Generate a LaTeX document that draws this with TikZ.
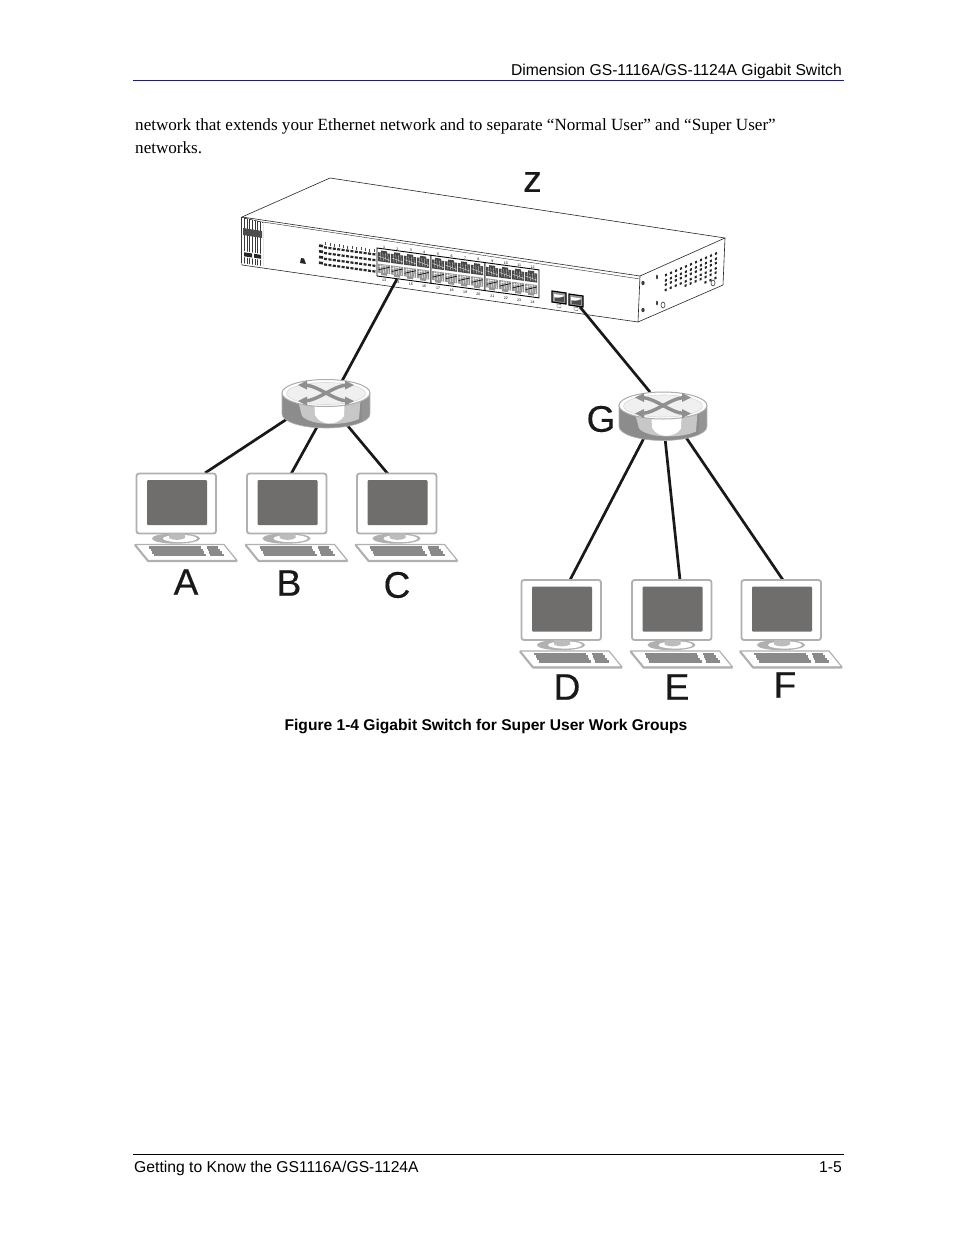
\documentclass[tikz,border=0pt]{standalone}
\usepackage{fontspec}
\setmainfont{Liberation Serif}
\newfontfamily\arialf{Liberation Sans}
\newfontfamily\labf[FakeBold=0.35]{Liberation Sans}
\usetikzlibrary{calc}
\definecolor{scr}{HTML}{6F6E6C}
\definecolor{rimgray}{HTML}{B0B0B0}
\definecolor{keygray}{HTML}{8A8A8A}
\definecolor{arrgray}{HTML}{8F8F8F}
\definecolor{ruleblue}{HTML}{1010E0}
\tikzset{
  x=1pt,y=-1pt,
  conn/.style={draw=black!90,line width=2.7pt},
  body/.style={font=\fontsize{17.1}{20}\selectfont,anchor=base west,inner sep=0pt},
  hdr/.style={font=\arialf\fontsize{15.7}{18}\selectfont,inner sep=0pt},
  biglab/.style={font=\labf\fontsize{37}{42}\selectfont,inner sep=0pt,text=black!90},
  outline/.style={draw=black!85,line width=0.6pt},
  tinytxt/.style={font=\arialf\fontsize{3.6}{4}\selectfont,inner sep=0pt,text=black},
  pics/pcbox/.style={code={
    \draw[draw=rimgray,line width=1.8pt,fill=white,rounded corners=2.5pt] (0.5,0.5) rectangle (80,60.5);
    \fill[scr,rounded corners=1pt] (11,7) rectangle (71,52);
    \fill[rimgray] (40,65.5) ellipse (24 and 5.2);
    \fill[white] (44,65.5) ellipse (17 and 3.6);
    \fill[rimgray!85] (33,60.5) -- (49,60.5) -- (49,65) .. controls (45,67.5) and (37,67.5) .. (33,65) -- cycle;
    \draw[draw=rimgray,line width=1.2pt,fill=white,line join=round] (-1,71.5) -- (88,71.5) -- (101,87.5) -- (12,87.5) -- cycle;
    \draw[draw=rimgray,line width=2pt,line join=round] (-1,72) -- (12,88) -- (101,88);
    \foreach \yy/\a/\b in {74.5/13/65,77/14.5/66.5,79.5/16/68,82/17.5/70}
      \draw[keygray,line width=2.2pt] (\a,\yy) -- (\b,\yy);
    \foreach \yy/\a/\b in {74.5/71/82,77/72/84,79.5/73/86,82/74/88}
      \draw[keygray,line width=2.2pt] (\a,\yy) -- (\b,\yy);
  }},
  pics/routerbox/.style={code={
    \begin{scope}
      \clip (-44,0) -- (-44,21) arc[start angle=180,end angle=0,x radius=44,y radius=14] -- (44,0) -- cycle;
      \fill[black!45] (-44,-2) rectangle (44,36);
      \fill[black!22] (-30,0) -- (-24,23) .. controls (-15,33) and (18,33) .. (33,26) -- (35,0) -- cycle;
      \fill[white] (-12,0) -- (-11,22) .. controls (-6,33) and (12,33) .. (18,23) -- (19,0) -- cycle;
      \fill[black!42] (36,0) rectangle (44,36);
    \end{scope}
    \draw[draw=black!30,line width=0.6pt] (-44,0) -- (-44,21) arc[start angle=180,end angle=0,x radius=44,y radius=14] -- (44,0);
    \draw[fill=white,draw=gray!65,line width=1pt] (0,0) ellipse (44 and 13.5);
    \draw[draw=gray!30,line width=0.6pt,fill=black!6] (0,0.5) ellipse (39.5 and 11);
    \draw[arrgray,line width=3.4pt] (-22,-8) .. controls (-8,-8) and (8,8) .. (22,8);
    \draw[arrgray,line width=3.4pt] (-22,8) .. controls (-8,8) and (8,-8) .. (22,-8);
    \fill[arrgray] (-28,-8) -- (-19,-12.5) -- (-19,-3.5) -- cycle;
    \fill[arrgray] (-28,8) -- (-19,12.5) -- (-19,3.5) -- cycle;
    \fill[arrgray] (28,-8) -- (19,-12.5) -- (19,-3.5) -- cycle;
    \fill[arrgray] (28,8) -- (19,12.5) -- (19,3.5) -- cycle;
  }},
  pics/portup/.style={code={
    \fill[black!72] (0,2) -- (3,2) -- (3,0) -- (9,0) -- (9,2) -- (12,2) -- (12,11) -- (0,11) -- cycle;
    \foreach \q in {2,4.5,7,9.5}{
      \draw[white!75!gray,line width=0.35pt] (\q,2) -- (\q+0.8,10);
    }
    \draw[white!75!gray,line width=0.4pt] (0.5,6) -- (11.5,8.5);
  }},
  pics/portlow/.style={code={
    \fill[black!42] (0,0) -- (12,0) -- (12,9) -- (9,9) -- (9,11) -- (3,11) -- (3,9) -- (0,9) -- cycle;
    \foreach \q in {2,4.5,7,9.5}{
      \draw[white,line width=0.45pt] (\q,0.5) -- (\q+0.8,8.5);
    }
    \draw[black,line width=0.6pt] (0.5,6) -- (11.5,2);
    \draw[white,line width=0.5pt] (0.5,3) -- (7,1);
  }},
}
\begin{document}
\begin{tikzpicture}[x=1pt,y=-1pt]
\useasboundingbox[fill=white] (0,0) rectangle (954,1235);

% page furniture
\draw[ruleblue,line width=0.9pt] (133,80.5) -- (844,80.5);
\draw[black,line width=0.9pt] (133,1154) -- (844,1154);
\node[hdr,anchor=base east] (header) at (842,75) {Dimension GS-1116A/GS-1124A Gigabit Switch};
\node[body] (line1) at (135,130) {network that extends your Ethernet network and to separate “Normal User” and “Super User”};
\node[body] (line2) at (135,153) {networks.};
\node[hdr,anchor=base,font=\arialf\bfseries\fontsize{15.6}{18}\selectfont] (caption) at (486,730) {Figure 1-4 Gigabit Switch for Super User Work Groups};
\node[hdr,anchor=base west] (footl) at (134,1172) {Getting to Know the GS1116A/GS-1124A};
\node[hdr,anchor=base east] (footr) at (842,1172) {1-5};

% connector ends
\coordinate (swA) at (397,279);
\coordinate (swB) at (580,307);
\coordinate (r1t) at (342,381);
\coordinate (r1a) at (287,419);
\coordinate (r1b) at (317,427);
\coordinate (r1c) at (347,425);
\coordinate (r2t) at (650,392);
\coordinate (r2d) at (644,438);
\coordinate (r2e) at (665,438);
\coordinate (r2f) at (685,436);
\coordinate (pa) at (205,473);
\coordinate (pb) at (291,474);
\coordinate (pc) at (388,474);
\coordinate (pd) at (570,580);
\coordinate (pe) at (680,580);
\coordinate (pf) at (783,580);

% switch housing
\draw[outline,fill=white,line join=round] (330,178) -- (242,217) -- (242,265) -- (638,322) -- (723,285) -- (725,238) -- cycle;
\draw[outline] (242,217) -- (640,276) -- (725,238);
\draw[outline] (640,276) -- (638,322);
\draw[outline,line width=0.4pt] (263,222) -- (640,279);
% front badge
\fill[black!78] (241,217) -- (263,222) -- (263,266) -- (241,263) -- cycle;
\foreach \i in {0,1.6,...,21}
  \draw[white,line width=0.4pt] (241.8+\i,218+\i*0.22) -- (241.8+\i,264+\i*0.1);
\fill[black!70] (243,228) -- (262,231) -- (262,238) -- (243,235) -- cycle;
\fill[white] (243,251) -- (262,254) -- (262,260) -- (243,257) -- cycle;
\fill[black!85] (244,252.3) -- (252,253.5) -- (252,257.5) -- (244,256.3) -- cycle;
\fill[black!85] (254,253.8) -- (261,254.9) -- (261,258.8) -- (254,257.7) -- cycle;
% power mark
\fill[black!85] (301,258) -- (304,258.5) -- (306,264) -- (300,263) -- cycle;

% LED field
\begin{scope}[shift={(322,243)},x={(1pt,-0.14pt)},y={(0pt,-1pt)}]
  \foreach \c in {0,...,11}{
    \foreach \r in {0,...,3}{
      \draw[black!85,line width=2.2pt] (4.4*\c+2,\r*5.7+4) -- (4.4*\c+5,\r*5.7+4);
    }
    \draw[black!70,line width=0.4pt] (4.4*\c+3.5,-1) -- (4.4*\c+3.5,2);
  }
  \foreach \r in {0,...,3}
    \draw[black!85,line width=2.6pt] (-3,\r*5.7+3) -- (1,\r*5.7+3);
\end{scope}

% port field in a frame slanted with the front panel
\foreach \g/\gx in {0/0,1/54,2/108}{
  \begin{scope}[shift={(377+\gx,248+\gx*0.135)},x={(1pt,-0.135pt)},y={(0pt,-1pt)}]
    \draw[black,line width=0.9pt,fill=white] (0,0) -- (54,0) -- (54,28) -- (0,28) -- cycle;
    \foreach \c in {0,...,3}{
      \pgfmathsetmacro{\px}{1.2+13*\c}
      \pic at (\px,2) {portup};
      \pic at (\px,15.5) {portlow};
    }
  \end{scope}
}
\foreach \n in {1,...,12}{
  \pgfmathsetmacro{\xx}{377+7+(\n-1)*13.4+int((\n-1)/4)*0.6}
  \pgfmathsetmacro{\yy}{246+(\xx-377)*0.135}
  \node[tinytxt] (tn\n) at (\xx,\yy) {\n};
}
\foreach \n in {13,...,24}{
  \pgfmathsetmacro{\xx}{377+7+(\n-13)*13.4+int((\n-13)/4)*0.6}
  \pgfmathsetmacro{\yy}{279+(\xx-377)*0.15}
  \node[tinytxt] (tn\n) at (\xx,\yy) {\n};
}

% uplink ports
\foreach \ux/\uy in {552/291,569/294}{
  \draw[black,line width=1.2pt,fill=black!40] (\ux,\uy) -- (\ux+14,\uy+2) -- (\ux+14,\uy+13) -- (\ux,\uy+11) -- cycle;
  \fill[white] (\ux+2,\uy+3) -- (\ux+12,\uy+4.5) -- (\ux+8,\uy+7) -- (\ux+2,\uy+6) -- cycle;
  \fill[black!70] (\ux+3,\uy+7) -- (\ux+12,\uy+6) -- (\ux+12,\uy+11) -- (\ux+3,\uy+10) -- cycle;
  \draw[black!70,line width=0.4pt] (\ux+5,\uy+13) -- (\ux+9,\uy+13.5) -- (\ux+9,\uy+16.5) -- (\ux+5,\uy+16) -- cycle;
}

% side vents and screws
\foreach \i in {0,...,10}
  \foreach \j in {0,...,5}{
    \pgfmathtruncatemacro{\keep}{\j<=(3+\i/4)?1:0}
    \pgfmathsetmacro{\vx}{666+\i*5-\j*0.1}
    \pgfmathsetmacro{\vy}{275-\i*2.15+\j*4.8+mod(\j,2)*0.5}
    \ifnum\keep=1
      \fill[black!85,rotate around={-30:(\vx,\vy)}] (\vx,\vy) ellipse (1.3 and 1.8);
    \fi
  }
\fill[black!75] (643,283) ellipse (1.7 and 2.2);
\fill[black!75] (643,310) ellipse (1.7 and 2.2);
\fill[black!75] (657,277) ellipse (1 and 2.4);
\fill[black!75] (657,303) ellipse (1 and 2.4);
\draw[black!75,line width=0.6pt] (663,305) ellipse (2 and 3);
\draw[black!75,line width=0.6pt] (713,283) ellipse (2 and 3);

% cables
\draw[conn] (swA) -- (r1t);
\draw[conn] (swB) -- (r2t);
\draw[conn] (r1a) -- (pa);
\draw[conn] (r1b) -- (pb);
\draw[conn] (r1c) -- (pc);
\draw[conn] (r2d) -- (pd);
\draw[conn] (r2e) -- (pe);
\draw[conn] (r2f) -- (pf);

% devices
\pic at (326,393) {routerbox};
\pic at (663,405.5) {routerbox};
\pic at (136,473) {pcbox};
\pic at (246.5,473) {pcbox};
\pic at (356.5,473) {pcbox};
\pic at (521,579.5) {pcbox};
\pic at (631.5,579.5) {pcbox};
\pic at (741,579.5) {pcbox};

% labels
\node[biglab] (lz) at (532.5,182) {z};
\node[biglab] (la) at (186,582) {A};
\node[biglab] (lb) at (289,583) {B};
\node[biglab] (lc) at (397,585) {C};
\node[biglab] (ld) at (567,687) {D};
\node[biglab] (le) at (677,687) {E};
\node[biglab] (lf) at (785,685) {F};
\node[biglab] (lg) at (601,419) {G};
\end{tikzpicture}
\end{document}
